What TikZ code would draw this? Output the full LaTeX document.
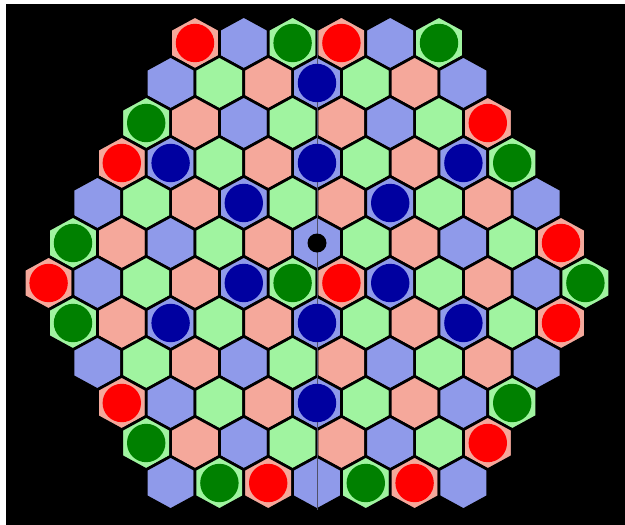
\documentclass[tikz,border=0pt]{standalone}
\usepackage{tikz}
\usepackage{xcolor}
\definecolor{cellblue}{HTML}{8F9AEA}
\definecolor{cellred}{HTML}{F5A89B}
\definecolor{cellgreen}{HTML}{A0F4A0}
\definecolor{piecered}{HTML}{FF0000}
\definecolor{piecegreen}{HTML}{008000}
\definecolor{pieceblue}{HTML}{0000A0}
\definecolor{axisgray}{HTML}{505068}
\colorlet{cell0}{cellblue}
\colorlet{cell1}{cellred}
\colorlet{cell2}{cellgreen}

\begin{document}
\begin{tikzpicture}[x=1pt, y=-1pt,
    cellbox/.style={draw=black, line width=2.7pt, line join=miter},
    axisline/.style={draw=axisgray, line width=1pt},
    redpiece/.style={fill=piecered},
    greenpiece/.style={fill=piecegreen},
    bluepiece/.style={fill=pieceblue}]
    \fill[white] (0,0) rectangle (625,525);
    \fill[black] (6,4) rectangle (625,525);
    \foreach \r in {1,...,12}{
        \pgfmathtruncatemacro\m{\r<8 ? \r+4 : 18-\r}
        \pgfmathtruncatemacro\kfirst{-\m}
        \pgfmathtruncatemacro\ksecond{-\m+2}
        \foreach \k in {\kfirst,\ksecond,...,\m}{
            \pgfmathtruncatemacro\c{Mod(\k,3)}
            \draw[cellbox, fill=cell\c] ({317+24.4*\k},{3+40*\r-26.67})
                -- ++(24.4,13.33) -- ++(0,26.67) -- ++(-24.4,13.33)
                -- ++(-24.4,-13.33) -- ++(0,-26.67) -- cycle;
        }
    }
    \draw[axisline] (317,29.67) -- (317,509.67);
    \foreach \r/\k in {1/-5,1/1,3/7,4/-8,6/10,7/-11,7/1,8/10,10/-8,11/7,12/-2,12/4}
        \fill[redpiece] ({317+24.4*\k},{3+40*\r}) circle[radius=19.2];
    \foreach \r/\k in {1/-1,1/5,3/-7,4/8,6/-10,7/-1,7/11,8/-10,10/8,11/-7,12/-4,12/2}
        \fill[greenpiece] ({317+24.4*\k},{3+40*\r}) circle[radius=19.2];
    \foreach \r/\k in {2/0,4/-6,4/0,4/6,5/-3,5/3,7/-3,7/3,8/-6,8/0,8/6,10/0}
        \fill[bluepiece] ({317+24.4*\k},{3+40*\r}) circle[radius=19.2];
    \fill[black] (317,243) circle[radius=9.5];
\end{tikzpicture}
\end{document}
